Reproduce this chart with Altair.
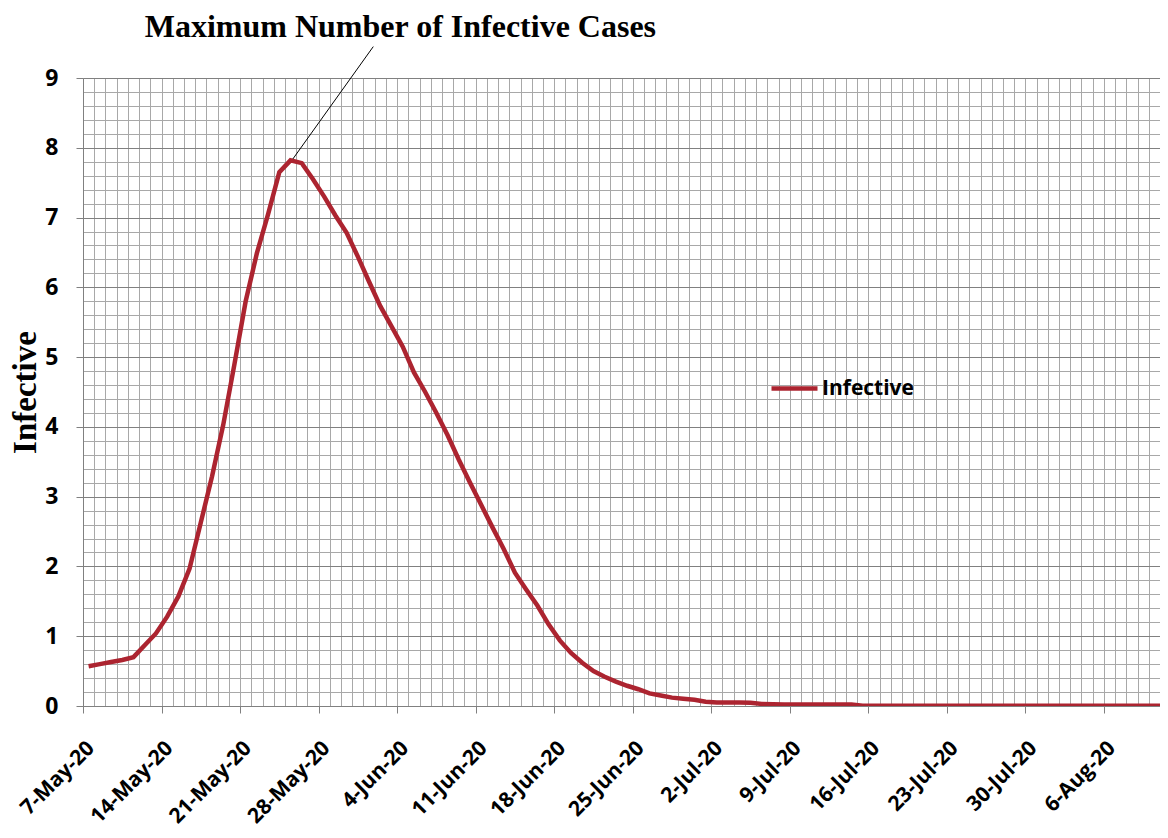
import altair as alt
import pandas as pd
from datetime import datetime, timedelta

# ---- data ----
start = datetime(2020, 5, 7)
infective = [
    0.57, 0.60, 0.63, 0.66, 0.70, 0.87, 1.04, 1.28, 1.57, 1.97,
    2.63, 3.29, 4.03, 4.90, 5.80, 6.49, 7.05, 7.65, 7.82, 7.78,
    7.55, 7.30, 7.03, 6.78, 6.44, 6.08, 5.73, 5.44, 5.15, 4.78,
    4.50, 4.20, 3.88, 3.53, 3.20, 2.88, 2.56, 2.25, 1.91, 1.67,
    1.44, 1.17, 0.94, 0.76, 0.62, 0.50, 0.42, 0.35, 0.29, 0.24,
    0.18, 0.15, 0.12, 0.105, 0.09, 0.06, 0.05, 0.05, 0.05, 0.045,
    0.03, 0.025, 0.02, 0.02, 0.02, 0.02, 0.02, 0.02, 0.02,
    0.005, 0.005, 0.005, 0.005, 0.005, 0.005, 0.005, 0.005, 0.005, 0.005,
    0.005, 0.005, 0.005, 0.005, 0.005, 0.005, 0.005, 0.005, 0.005, 0.005,
    0.005, 0.005, 0.005, 0.005, 0.005, 0.005, 0.005, 0.005,
]
dates = [(start + timedelta(days=i, hours=12)).strftime("%Y-%m-%dT%H:%M:%SZ")
         for i in range(len(infective))]
series = ["Infective"] * len(infective)

week_ticks = [start + timedelta(days=7 * i) for i in range(14)]   # 7-May .. 6-Aug
day_ticks = [start + timedelta(days=i) for i in range(97)]        # daily grid
y_major = list(range(10))
y_minor = [i / 5 for i in range(46) if i % 5]

# annotation: callout title and its pointer line (data coordinates)
title_text = ["Maximum Number of Infective Cases"]
title_x = ["2020-06-04T07:00:00Z"]
title_y = [9.59]
ann_x = ["2020-05-25T17:00:00Z"]
ann_y = [7.84]
ann_x2 = ["2020-06-01T21:00:00Z"]
ann_y2 = [9.45]

df = pd.DataFrame({"date": dates, "value": infective, "series": series})
ann = pd.DataFrame({"x": ann_x, "y": ann_y, "x2": ann_x2, "y2": ann_y2})
ttl = pd.DataFrame({"x": title_x, "y": title_y, "text": title_text})

RED = "#AC2430"
LABEL_FONT = "Open Sans"


def dt(d):
    return alt.DateTime(year=d.year, month=d.month, date=d.day, utc=True)


x_scale = alt.Scale(type="utc", domain=[dt(start), dt(start + timedelta(days=96))], nice=False)
y_scale = alt.Scale(domain=[0, 9], nice=False)

grid = alt.Chart(df).mark_line(strokeOpacity=0).encode(
    x=alt.X("date:T", scale=x_scale,
            axis=alt.Axis(values=[dt(d) for d in day_ticks], grid=True, gridColor="#A8A8A8",
                          gridWidth=1, labels=False, ticks=False, domain=False, title=None,
                          orient="bottom")),
    y=alt.Y("value:Q", scale=y_scale,
            axis=alt.Axis(values=y_minor, grid=True, gridColor="#A8A8A8", gridWidth=1,
                          labels=False, ticks=False, domain=False, title=None, orient="left")),
)

line = alt.Chart(df).mark_line(strokeWidth=4.5, clip=True).encode(
    x=alt.X("date:T", scale=x_scale,
            axis=alt.Axis(values=[dt(d) for d in week_ticks],
                          labelExpr="utcFormat(datum.value, '%-d-%b-%y')",
                          labelAngle=-45, labelAlign="right", labelBaseline="top",
                          labelFont=LABEL_FONT, labelFontWeight="bold", labelFontSize=21,
                          labelColor="black", labelPadding=24, labelFlush=False, labelOverlap=False,
                          tickSize=7, tickColor="#808080", domainColor="#808080", grid=False,
                          title=None, orient="bottom")),
    y=alt.Y("value:Q", scale=y_scale,
            axis=alt.Axis(values=y_major, format="d", grid=True, gridColor="#808080",
                          labelFont=LABEL_FONT, labelFontWeight="bold", labelFontSize=23,
                          labelColor="black", labelPadding=18, labelFlush=False,
                          tickSize=7, tickColor="#808080", domainColor="#808080",
                          title="Infective", titleFont="Liberation Serif", titleFontSize=33,
                          titleFontWeight="bold", titleColor="black", titlePadding=2,
                          orient="left")),
    color=alt.Color("series:N", scale=alt.Scale(range=[RED]),
                    legend=alt.Legend(orient="none", legendX=686, legendY=285, title=None,
                                      symbolType="stroke", symbolSize=2116, symbolStrokeWidth=4.5,
                                      labelFont=LABEL_FONT, labelFontSize=21, labelFontWeight="bold",
                                      labelColor="black", labelOffset=2, padding=0)),
)

pointer = alt.Chart(ann).mark_rule(color="black", strokeWidth=1).encode(
    x=alt.X("x:T", scale=x_scale, axis=None),
    y=alt.Y("y:Q", scale=y_scale, axis=None),
    x2="x2:T",
    y2="y2:Q",
)

heading = alt.Chart(ttl).mark_text(
    font="Liberation Serif", fontSize=32, fontWeight="bold", color="black",
    align="center", baseline="alphabetic",
).encode(
    x=alt.X("x:T", scale=x_scale, axis=None),
    y=alt.Y("y:Q", scale=y_scale, axis=None),
    text="text:N",
)

chart = alt.layer(grid, line, pointer, heading).resolve_axis(
    x="independent", y="independent"
).properties(
    width=1077,
    height=628,
    padding={"left": 75, "top": 70, "right": 0, "bottom": 124},
    autosize=alt.AutoSizeParams(type="none"),
).configure_view(stroke=None).configure(background="white")

chart.save("out.html", embed_options={"renderer": "svg", "actions": False})
